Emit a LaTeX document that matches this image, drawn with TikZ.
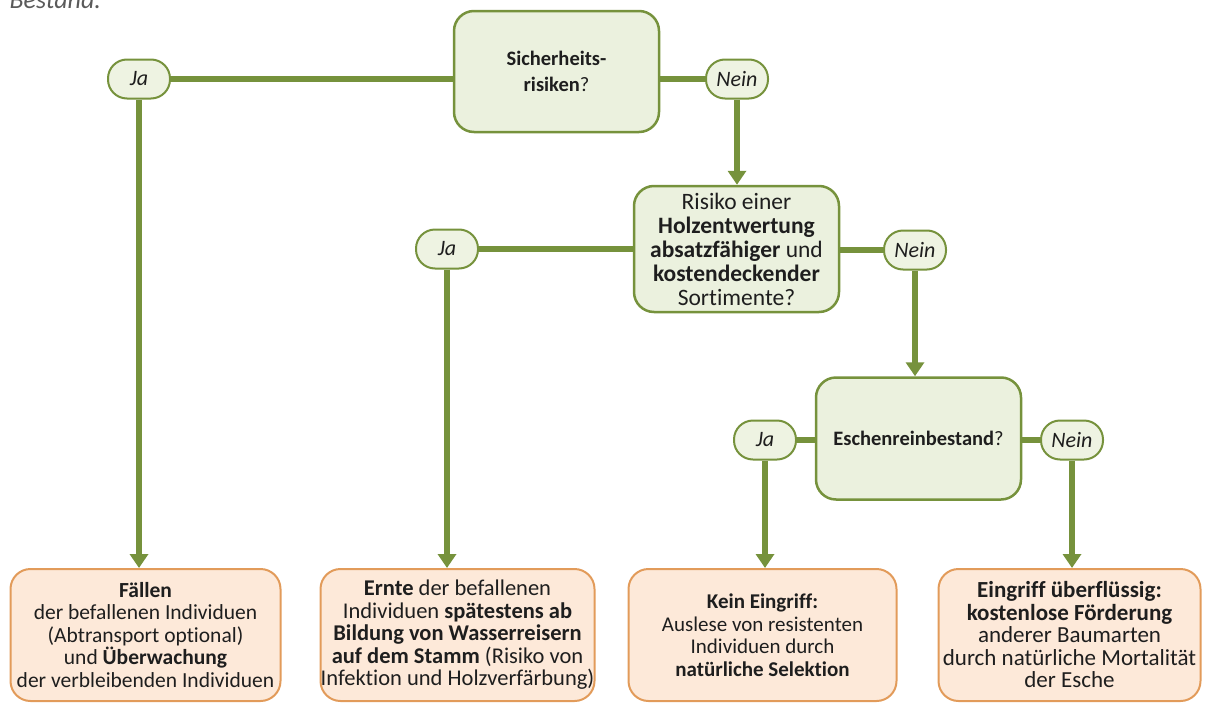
\documentclass[tikz,border=0pt]{standalone}
\usepackage{fontspec}
\setmainfont{Carlito}[Ligatures=CommonOff]
\usetikzlibrary{arrows.meta}
\definecolor{lgreen}{RGB}{118,146,60}
\definecolor{decfill}{RGB}{235,241,222}
\definecolor{pillfill}{RGB}{238,243,226}
\definecolor{ofill}{RGB}{253,233,217}
\definecolor{oborder}{RGB}{226,155,90}
\definecolor{txt}{RGB}{30,30,30}
\definecolor{captiongrey}{RGB}{90,90,90}
\begin{document}
\begin{tikzpicture}[x=1pt,y=-1pt,
  dec/.style={draw=lgreen, line width=2.5pt, fill=decfill, rounded corners=20pt,
    align=center, text=txt, inner sep=0pt},
  pill/.style={draw=lgreen, line width=2pt, fill=pillfill, rounded corners=19pt,
    minimum width=62pt, minimum height=39pt, inner sep=0pt, text=txt,
    font=\fontsize{22}{24}\selectfont\itshape},
  res/.style={draw=oborder, line width=2pt, fill=ofill, rounded corners=20pt,
    align=center, text=txt, inner sep=0pt, minimum height=132pt},
  conn/.style={draw=lgreen, line width=6pt},
  arr/.style={conn, -{Triangle[width=18pt,length=14pt]}}
]
\useasboundingbox (0,0) rectangle (1207,704);

\node[anchor=base west, font=\fontsize{26}{30}\selectfont\itshape, text=captiongrey] (cap) at (6,9) {Bestand.};

% decision boxes
\node[dec, minimum width=205pt, minimum height=121pt, font=\fontsize{20.5}{26}\selectfont] (d1) at (556.5,71.5)
  {\textbf{Sicherheits-}\\\textbf{risiken}?};
\node[dec, minimum width=205pt, minimum height=126pt, font=\fontsize{23.5}{24}\selectfont] (d2) at (736.5,249)
  {Risiko einer\\\textbf{Holzentwertung}\\\textbf{absatzfähiger} und\\\textbf{kostendeckender}\\Sortimente?};
\node[dec, minimum width=205pt, minimum height=122pt, font=\fontsize{20.5}{24}\selectfont] (d3) at (918.5,438.5)
  {\textbf{Eschenreinbestand}?};

% pills
\node[pill] (ja1) at (139,79) {Ja};
\node[pill] (nein1) at (737,79) {Nein};
\node[pill] (ja2) at (447,249) {Ja};
\node[pill] (nein2) at (915,250) {Nein};
\node[pill] (ja3) at (765,440) {Ja};
\node[pill] (nein3) at (1072,440) {Nein};

% result boxes
\node[res, minimum width=270pt, font=\fontsize{21.5}{22.5}\selectfont] (r1) at (145.5,635)
  {\textbf{Fällen}\\der befallenen Individuen\\(Abtransport optional)\\und \textbf{Überwachung}\\der verbleibenden Individuen};
\node[res, minimum width=274pt, font=\fontsize{22.5}{22.5}\selectfont] (r2) at (457.5,635)
  {\textbf{Ernte} der befallenen\\Individuen \textbf{spätestens ab}\\\textbf{Bildung von Wasserreisern}\\\textbf{auf dem Stamm} (Risiko von\\Infektion und Holzverfärbung)};
\node[res, minimum width=268pt, font=\fontsize{21}{22.5}\selectfont] (r3) at (762.5,635)
  {\textbf{Kein Eingriff:}\\Auslese von resistenten\\Individuen durch\\\textbf{natürliche Selektion}};
\node[res, minimum width=262pt, font=\fontsize{23}{22.5}\selectfont] (r4) at (1069.5,635)
  {\textbf{Eingriff überflüssig:}\\\textbf{kostenlose Förderung}\\anderer Baumarten\\durch natürliche Mortalität\\der Esche};

% connectors
\draw[conn] (ja1.east) -- (ja1.east -| d1.west);
\draw[conn] (d1.east |- nein1.west) -- (nein1.west);
\draw[arr] (ja1.south) -- (ja1.south |- r1.north);
\draw[arr] (nein1.south) -- (nein1.south |- d2.north);

\draw[conn] (ja2.east) -- (ja2.east -| d2.west);
\draw[conn] (d2.east |- nein2.west) -- (nein2.west);
\draw[arr] (ja2.south) -- (ja2.south |- r2.north);
\draw[arr] (nein2.south) -- (nein2.south |- d3.north);

\draw[conn] (ja3.east) -- (ja3.east -| d3.west);
\draw[conn] (d3.east |- nein3.west) -- (nein3.west);
\draw[arr] (ja3.south) -- (ja3.south |- r3.north);
\draw[arr] (nein3.south) -- (nein3.south |- r4.north);
\end{tikzpicture}
\end{document}
